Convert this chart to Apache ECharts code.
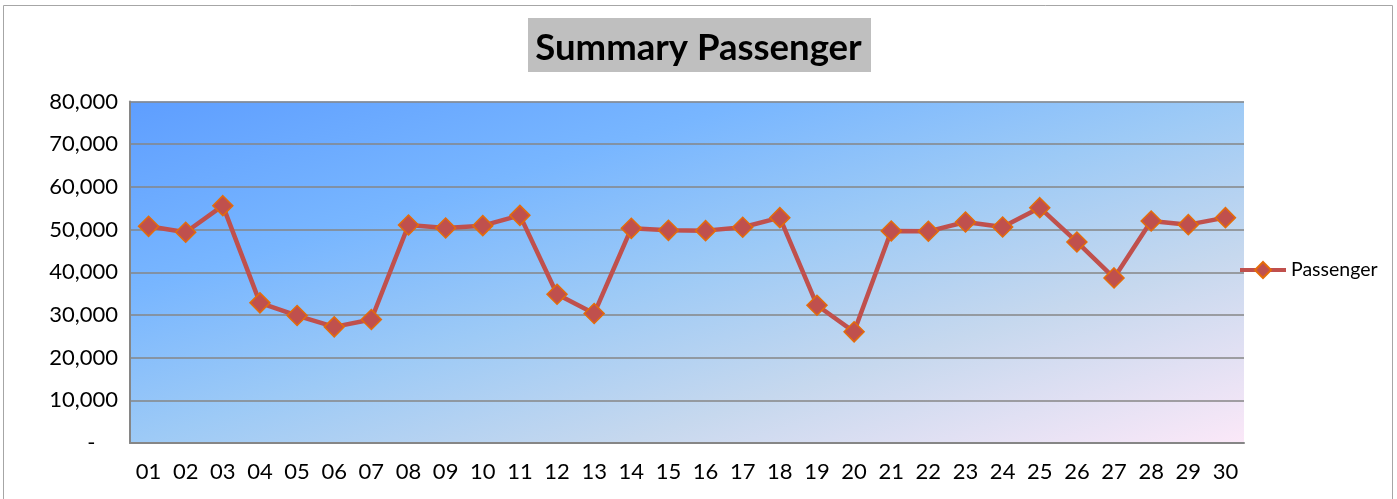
<!DOCTYPE html>
<html>
<head>
<meta charset="utf-8">
<script src="https://cdn.jsdelivr.net/npm/echarts@6/dist/echarts.min.js"></script>
<style>
html,body{margin:0;padding:0;background:#fff;}
#c{width:1397px;height:499px;}
</style>
</head>
<body>
<div id="c"></div>
<script>
var categories = ['01','02','03','04','05','06','07','08','09','10','11','12','13','14','15','16','17','18','19','20','21','22','23','24','25','26','27','28','29','30'];
var passenger = [50760,49360,55600,32830,29860,27210,28930,51070,50370,50920,53330,34850,30330,50290,49820,49750,50530,52790,32280,26040,49670,49590,51770,50600,55130,47100,38670,52010,51150,52790];
var yTicks = [0,10000,20000,30000,40000,50000,60000,70000,80000];

var chart = echarts.init(document.getElementById('c'), null, {renderer:'canvas'});
var font = 'Lato';
chart.setOption({
  animation:false,
  backgroundColor:'#ffffff',
  graphic:[
    {type:'rect', shape:{x:3.5,y:5.5,width:1389,height:500}, style:{fill:'none', stroke:'#a6a6a6', lineWidth:1}, z:-1},
    {type:'rect', shape:{x:528,y:18,width:343,height:54}, style:{fill:'#bfbfbf'}, z:0}
  ],
  title:{
    text:'Summary Passenger',
    left:'center', top:25,
    textStyle:{fontFamily:font, fontWeight:'bold', fontSize:36.5, color:'#000'}
  },
  legend:{
    data:['Passenger'],
    left:1238, top:260, padding:0,
    itemWidth:46, itemHeight:20, itemGap:0,
    lineStyle:{width:4},
    textStyle:{fontFamily:font, fontSize:19.5, color:'#000'}
  },
  grid:{
    left:130, right:153, top:101.5, bottom:56,
    show:true, borderWidth:0,
    backgroundColor:{type:'linear', x:0, y:0, x2:0.172, y2:1.828, colorStops:[
      {offset:0, color:'#5e9eff'},
      {offset:0.28, color:'#78b6ff'},
      {offset:0.5, color:'#9dcaf6'},
      {offset:0.72, color:'#c6d8ee'},
      {offset:1, color:'#fbe8f8'}
    ]}
  },
  xAxis:{
    type:'category', data:categories, boundaryGap:true,
    axisLine:{show:true, lineStyle:{color:'#868686', width:2}},
    axisTick:{show:false},
    axisLabel:{fontFamily:font, fontSize:22, color:'#000', margin:18}
  },
  yAxis:{
    type:'value', min:0, max:80000, interval:10000,
    axisLine:{show:true, lineStyle:{color:'#868686', width:2}},
    axisTick:{show:false},
    splitLine:{lineStyle:{color:'#868686', width:1.5}},
    axisLabel:{fontFamily:font, fontSize:22, color:'#000', margin:12,
      formatter:function(v){ return v===0 ? '-    ' : v.toLocaleString('en-US'); }}
  },
  series:[{
    name:'Passenger', type:'line', data:passenger,
    symbol:'diamond', symbolSize:20,
    lineStyle:{color:'#c0504d', width:4.5},
    itemStyle:{color:'#c0504d', borderColor:'#e46c0a', borderWidth:1.5}
  }]
});
</script>
</body>
</html>
